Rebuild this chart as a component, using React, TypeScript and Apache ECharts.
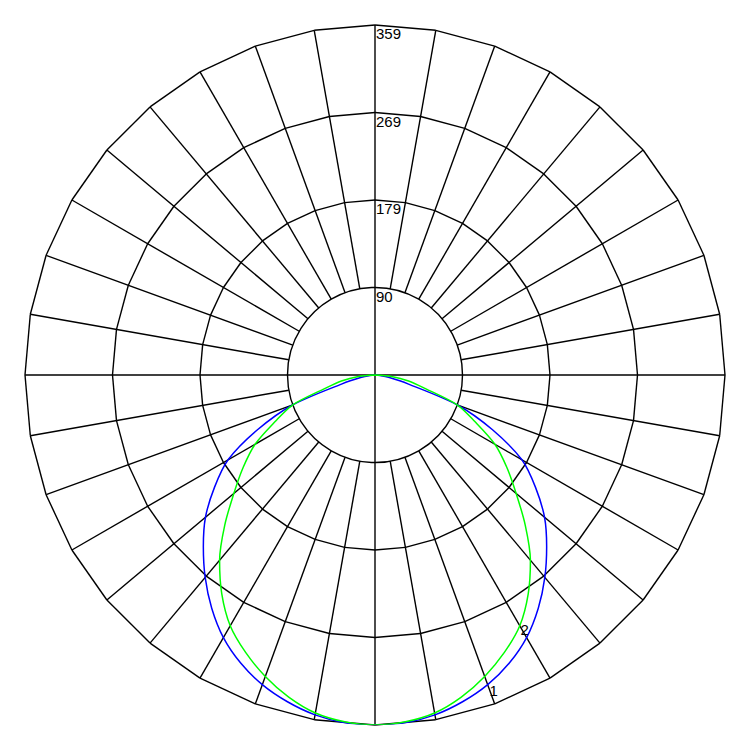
import * as echarts from 'echarts'
import React, { useEffect, useRef } from 'react'

// gamma angles (deg from nadir), right half; the curves are symmetric
const gammaAngles = [0, 5, 10, 15, 20, 25, 30, 35, 40, 45, 50, 55, 60, 65, 70, 75, 80, 85, 90]
const curve1Values = [359, 358, 354, 347, 338, 326, 311, 292, 271, 249, 227, 201, 174, 133, 90, 35, 15, 5, 0]
const curve2Values = [359, 357, 352, 342, 329, 314, 297, 274, 248, 218, 189, 165, 142, 113, 90, 53, 35, 17, 0]

const curveNames = ['1', '2']
const curveColors = ['#0000ff', '#00ff00']
const curveLabelAngles = [20, 30]

const ringValues = [89.75, 179.5, 269.25, 359]
const ringLabels = ['90', '179', '269', '359']
const spokeStep = 10

const font = 'Liberation Sans, Arial, sans-serif'

function mirror(values: number[]) {
  const data: any[] = []
  for (let i = gammaAngles.length - 1; i > 0; i--) {
    data.push([values[i], -gammaAngles[i]])
  }
  for (let i = 0; i < gammaAngles.length; i++) {
    data.push([values[i], gammaAngles[i]])
  }
  return data
}

export default function App() {
  const chartRef = useRef<HTMLDivElement>(null)

  useEffect(() => {
    const chart = echarts.init(chartRef.current, null, { renderer: 'svg' })

    const spokes: number[][] = []
    for (let a = -180 + spokeStep; a <= 180; a += spokeStep) {
      spokes.push([ringValues[3], a])
    }

    const curveSeries = [curve1Values, curve2Values].map((values, k) => {
      const data = mirror(values).map((d) => {
        if (d[1] === curveLabelAngles[k]) {
          return {
            value: d,
            label: {
              show: true,
              position: 'inside',
              offset: k === 0 ? [6, 6] : [5, 4],
              formatter: curveNames[k],
              color: '#000',
              fontSize: 15,
              fontFamily: font,
            },
          }
        }
        return d
      })
      return {
        name: curveNames[k],
        type: 'line',
        coordinateSystem: 'polar',
        data,
        smooth: 0.3,
        showSymbol: true,
        symbolSize: 0,
        lineStyle: { color: curveColors[k], width: 1.5 },
        itemStyle: { color: curveColors[k] },
        z: 5,
      }
    })

    const option = {
      animation: false,
      backgroundColor: '#fff',
      polar: {
        center: ['50%', '50%'],
        radius: 350,
      },
      angleAxis: {
        type: 'value',
        min: -180,
        max: 180,
        startAngle: 90,
        clockwise: false,
        show: false,
      },
      radiusAxis: {
        type: 'value',
        min: 0,
        max: 359,
        show: false,
      },
      series: [
        {
          type: 'custom',
          coordinateSystem: 'polar',
          data: spokes,
          clip: false,
          silent: true,
          z: 1,
          renderItem: (params: any, api: any) => {
            const a = api.value(1)
            const stroke = { stroke: '#000', lineWidth: 1.4, fill: null }
            const children: any[] = []
            const r0 = a % 90 === 0 ? 0 : ringValues[0]
            const p0 = api.coord([r0, a])
            const p1 = api.coord([ringValues[3], a])
            children.push({
              type: 'line',
              shape: { x1: p0[0], y1: p0[1], x2: p1[0], y2: p1[1] },
              style: stroke,
            })
            for (let j = 1; j < ringValues.length; j++) {
              const q0 = api.coord([ringValues[j], a])
              const q1 = api.coord([ringValues[j], a - spokeStep])
              children.push({
                type: 'line',
                shape: { x1: q0[0], y1: q0[1], x2: q1[0], y2: q1[1] },
                style: stroke,
              })
            }
            if (params.dataIndex === 0) {
              const c = api.coord([0, 0])
              const e = api.coord([ringValues[0], 0])
              children.push({
                type: 'circle',
                shape: { cx: c[0], cy: c[1], r: Math.hypot(e[0] - c[0], e[1] - c[1]) },
                style: stroke,
              })
              ringValues.forEach((v, j) => {
                const t = api.coord([v, 180])
                children.push({
                  type: 'text',
                  x: t[0] + 1,
                  y: t[1] + 1,
                  style: {
                    text: ringLabels[j],
                    fill: '#000',
                    fontSize: 15,
                    fontFamily: font,
                    align: 'left',
                    verticalAlign: 'top',
                  },
                })
              })
            }
            return { type: 'group', children }
          },
        },
        ...curveSeries,
      ],
    }

    chart.setOption(option as any)

    return () => {
      chart.dispose()
    }
  }, [])

  return (
    <div
      ref={chartRef}
      style={{ position: 'absolute', left: 0, top: 0, width: '750px', height: '750px' }}
    />
  )
}
